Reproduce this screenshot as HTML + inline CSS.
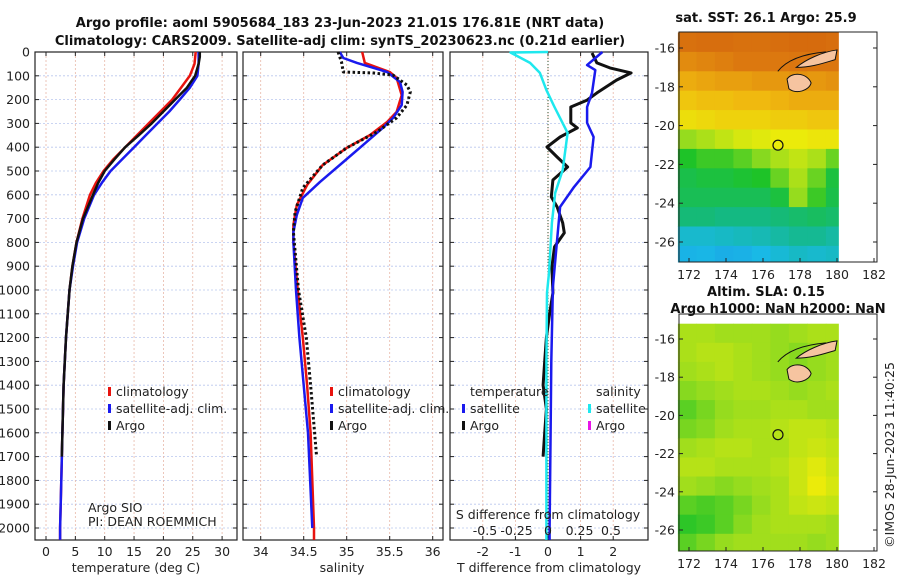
<!DOCTYPE html>
<html><head><meta charset="utf-8">
<style>
html,body{margin:0;padding:0;background:#fff;}
svg{display:block;font-family:"DejaVu Sans","Liberation Sans",sans-serif;}
.t{font-size:12.5px;fill:#222;}
.b{font-weight:bold;font-size:13px;fill:#111;}
</style></head>
<body>
<svg id="chart" width="900" height="580" viewBox="0 0 900 580">
<text class="b" x="340" y="27" text-anchor="middle">Argo profile: aoml 5905684_183 23-Jun-2023 21.01S 176.81E (NRT data)</text>
<text class="b" x="340" y="45" text-anchor="middle">Climatology: CARS2009. Satellite-adj clim: synTS_20230623.nc (0.21d earlier)</text>
<text class="b" x="766" y="22" text-anchor="middle">sat. SST: 26.1 Argo: 25.9</text>
<text class="b" x="766" y="296" text-anchor="middle">Altim. SLA: 0.15</text>
<text class="b" x="778" y="313" text-anchor="middle">Argo h1000: NaN h2000: NaN</text>
<text class="t" transform="translate(894,455) rotate(-90)" text-anchor="middle">©IMOS 28-Jun-2023 11:40:25</text>
<g id="layer"></g>
</svg>
<script>
// ---------- data ----------
const depthTicks=[0,100,200,300,400,500,600,700,800,900,1000,1100,1200,1300,1400,1500,1600,1700,1800,1900,2000];
const tempTicks=[0,5,10,15,20,25,30];
const salTicks=[34,34.5,35,35.5,36];
const tdiffTicks=[-2,-1,0,1,2];
const sdiffTicks=[-0.5,-0.25,0,0.25,0.5];
const sdiffLabels=["-0.5","-0.25","0","0.25","0.5"];

const climDepth=[0,50,100,150,200,250,300,350,400,450,500,550,600,700,800,900,1000,1200,1400,1600,1800,2000,2050];
const climTemp=[25.5,25.3,24.5,23,21.5,19.5,17.5,15.5,13.5,11.5,9.8,8.5,7.5,6.2,5.2,4.5,4.0,3.4,3.0,2.8,2.6,2.4,2.4];
const satTemp=[26,26,25.8,24.5,22.8,21,19,17,15,13,11,9.5,8.2,6.5,5.3,4.6,4.0,3.4,3.0,2.8,2.6,2.4,2.4];
const argoDepth=[0,20,50,100,150,200,250,300,350,400,450,500,550,600,700,800,900,1000,1200,1400,1600,1700];
const argoTemp=[26.2,26.2,26,25.4,24,22,20,18,15.8,13.5,11.7,10,8.9,8,6.3,5.2,4.5,4.0,3.4,3.0,2.8,2.7];

const climSalDepth=[0,46,84,109,181,252,294,349,403,475,559,643,727,798,1000,1200,1400,1600,2000,2050];
const climSal=[35.18,35.21,35.50,35.58,35.64,35.58,35.47,35.27,35.00,34.72,34.54,34.42,34.38,34.38,34.43,34.49,34.54,34.58,34.62,34.62];
const satSalDepth=[0,25,46,84,126,168,223,277,319,391,462,546,613,685,756,800,1000,1200,1400,1600,2000];
const satSal=[34.92,34.96,35.12,35.47,35.62,35.65,35.64,35.54,35.42,35.19,34.96,34.69,34.49,34.42,34.38,34.38,34.41,34.45,34.50,34.55,34.60];
const argoSalDepth=[0,42,84,88,97,139,168,223,277,336,403,475,571,672,756,1000,1200,1400,1700];
const argoSal=[34.9,34.94,34.96,35.3,35.54,35.7,35.74,35.7,35.58,35.35,35.0,34.72,34.49,34.4,34.38,34.44,34.53,34.58,34.65];

const cyanDepth=[0,2,46,88,160,231,340,496,592,718,928,1012,1300,1600,2000,2050];
const cyanDiff=[0,-1.15,-0.55,-0.25,-0.05,0.2,0.6,0.45,0.22,0.12,0.03,-0.03,-0.05,-0.05,-0.05,-0.05];
const blueDepth=[0,55,76,172,231,298,357,483,567,651,790,987,1300,1600,2000,2050];
const blueDiff=[1.67,1.2,1.45,1.35,1.2,1.2,1.4,1.3,0.8,0.37,0.28,0.15,0.1,0.08,0.05,0.05];
const blackDepth=[4,46,67,88,118,172,202,231,298,319,357,399,441,483,538,609,651,718,760,819,903,1012,1100,1200,1300,1400,1500,1600,1700];
const blackDiff=[1.35,1.5,1.9,2.55,2.1,1.5,1.2,0.7,0.7,0.9,0.37,-0.03,0.28,0.6,0.15,0.1,0.28,0.45,0.5,0.2,0.12,0.15,0.05,-0.05,-0.1,-0.15,-0.05,-0.1,-0.15];

const lonTicks=[172,174,176,178,180,182];
const latTicks=[-16,-18,-20,-22,-24,-26];
const gridLon=[171.4,172.4,173.4,174.4,175.4,176.4,177.4,178.4,179.4];
const gridLat=[-15.2,-16.2,-17.2,-18.2,-19.2,-20.2,-21.2,-22.2,-23.2,-24.2,-25.2,-26.2];
const sstGrid=[
[0.87,0.88,0.88,0.87,0.87,0.88,0.89,0.89,0.88],
[0.81,0.82,0.83,0.84,0.84,0.84,0.85,0.85,0.85],
[0.76,0.77,0.78,0.78,0.79,0.79,0.80,0.79,0.80],
[0.72,0.73,0.73,0.74,0.74,0.75,0.76,0.76,0.76],
[0.68,0.69,0.70,0.70,0.70,0.71,0.71,0.72,0.72],
[0.58,0.60,0.62,0.64,0.65,0.66,0.66,0.67,0.67],
[0.50,0.52,0.52,0.54,0.57,0.60,0.62,0.60,0.55],
[0.47,0.48,0.48,0.49,0.50,0.55,0.60,0.55,0.48],
[0.46,0.46,0.46,0.46,0.46,0.48,0.58,0.52,0.47],
[0.43,0.43,0.42,0.42,0.42,0.43,0.44,0.45,0.44],
[0.33,0.33,0.34,0.35,0.36,0.38,0.40,0.40,0.38],
[0.28,0.29,0.26,0.27,0.30,0.32,0.34,0.33,0.34]];
const slaGrid=[
[0.60,0.60,0.59,0.59,0.59,0.58,0.59,0.60,0.60],
[0.60,0.61,0.61,0.60,0.59,0.58,0.57,0.58,0.59],
[0.59,0.60,0.61,0.60,0.59,0.58,0.57,0.58,0.59],
[0.57,0.58,0.59,0.60,0.60,0.59,0.58,0.59,0.60],
[0.54,0.56,0.58,0.59,0.59,0.60,0.60,0.59,0.59],
[0.56,0.57,0.59,0.60,0.60,0.61,0.62,0.62,0.61],
[0.59,0.60,0.61,0.61,0.60,0.60,0.62,0.63,0.62],
[0.61,0.61,0.60,0.60,0.60,0.61,0.63,0.65,0.63],
[0.59,0.58,0.57,0.58,0.59,0.60,0.63,0.66,0.64],
[0.54,0.53,0.54,0.56,0.58,0.60,0.62,0.63,0.62],
[0.51,0.52,0.54,0.57,0.59,0.60,0.60,0.60,0.59],
[0.54,0.56,0.58,0.59,0.59,0.59,0.59,0.58,0.59]];
const argoLon=176.81, argoLat=-21.01;

// ---------- drawing ----------
const NS="http://www.w3.org/2000/svg";
const L=document.getElementById('layer');
function el(tag,a,parent){const e=document.createElementNS(NS,tag);for(const k in a)e.setAttribute(k,a[k]);(parent||L).appendChild(e);return e;}
function txt(x,y,s,anchor,size){const e=el('text',{x:x,y:y,'text-anchor':anchor||'middle',class:'t'});if(size)e.setAttribute('font-size',size);e.textContent=s;return e;}

const PY0=52, PY1=540; const dy=d=>PY0+d*0.238;
function panel(name,x0,x1,xs,ticks,labels,withY){
  const g=el('g',{});
  
  
  depthTicks.forEach(d=>{el('line',{x1:x0,x2:x1,y1:dy(d),y2:dy(d),stroke:'#b9c6ee','stroke-width':0.8,'stroke-dasharray':'2,2'},g);
    el('line',{x1:x0,x2:x0+4,y1:dy(d),y2:dy(d),stroke:'#222'},g);el('line',{x1:x1,x2:x1-4,y1:dy(d),y2:dy(d),stroke:'#222'},g);});
  ticks.forEach((v,i)=>{const x=xs(v);el('line',{x1:x,x2:x,y1:PY0,y2:PY1,stroke:'#e8b8a8','stroke-width':0.8,'stroke-dasharray':'2,2'},g);
    el('line',{x1:x,x2:x,y1:PY1,y2:PY1-4,stroke:'#222'},g);el('line',{x1:x,x2:x,y1:PY0,y2:PY0+4,stroke:'#222'},g);
    const t=txt(x,556,labels[i]);});
  el('rect',{x:x0,y:PY0,width:x1-x0,height:PY1-PY0,fill:'none',stroke:'#222','stroke-width':1.2},g);
  if(withY) depthTicks.forEach(d=>{const t=txt(30,dy(d)+4.5,String(d),'end');});
  return g;
}
function line(xs,vals,deps,color,w,name,dash){
  const p=vals.map((v,i)=>(i?'L':'M')+xs(v).toFixed(1)+','+dy(deps[i]).toFixed(1)).join('');
  const e=el('path',{d:p,fill:'none',stroke:color,'stroke-width':w,'stroke-linejoin':'round'});
  if(dash)e.setAttribute('stroke-dasharray',dash);
  
  
}
function legend(x,y,color,label,name){
  el('rect',{x:x,y:y-9,width:3,height:9,fill:color});
  const t=txt(x+8,y,label,'start');
  
  
}
// panel 1
const xT=v=>46+v*5.87;
panel('temperature-panel',35,237,xT,tempTicks,tempTicks.map(String),true);
line(xT,climTemp,climDepth,'#e8130e',2.5,'temp-climatology-line');
line(xT,satTemp,climDepth,'#1a1aee',2.5,'temp-satellite-line');
line(xT,argoTemp,argoDepth,'#111',2.5,'temp-argo-line');
txt(136,572,'temperature (deg C)');
legend(108,396,'#e8130e','climatology','legend-climatology');
legend(108,413,'#1a1aee','satellite-adj. clim.','legend-satellite');
legend(108,430,'#111','Argo','legend-argo');
txt(88,512,'Argo SIO','start',10);
txt(88,526,'PI: DEAN ROEMMICH','start',10);
// panel 2
const xS=v=>260.7+(v-34)*86;
panel('salinity-panel',243,443,xS,salTicks,salTicks.map(String),false);
line(xS,climSal,climSalDepth,'#e8130e',2.5,'sal-climatology-line');
line(xS,satSal,satSalDepth,'#1a1aee',2.5,'sal-satellite-line');
line(xS,argoSal,argoSalDepth,'#111',3,'sal-argo-line','2.5,2.5');
txt(342,572,'salinity');
legend(330,396,'#e8130e','climatology','legend-climatology-2');
legend(330,413,'#1a1aee','satellite-adj. clim.','legend-satellite-2');
legend(330,430,'#111','Argo','legend-argo-2');
// panel 3
const xD=v=>548+v*32.6;
const xSD=v=>548+v*126;
panel('difference-panel',450,648,xD,tdiffTicks,tdiffTicks.map(String),false);
el('line',{x1:548,x2:548,y1:PY0,y2:PY1,stroke:'#335533','stroke-dasharray':'1,2'});
line(xD,blackDiff,blackDepth,'#111',3,'tdiff-argo-line');
line(xD,blueDiff,blueDepth,'#1a1aee',2.5,'tdiff-satellite-line');
line(xD,cyanDiff,cyanDepth,'#1ee8ee',2.5,'sdiff-satellite-line');
txt(548,519,'S difference from climatology');
sdiffTicks.forEach((v,i)=>{const t=txt(xSD(v),535,sdiffLabels[i]);});
txt(549,572,'T difference from climatology');
txt(470,396,'temperature','start');
txt(596,396,'salinity','start');
legend(462,413,'#1a1aee','satellite','legend-t-satellite');
legend(462,430,'#111','Argo','legend-t-argo');
legend(588,413,'#1ee8ee','satellite','legend-s-satellite');
legend(588,430,'#e815e8','Argo','legend-s-argo');

// maps
const cmapStops=[[0,[30,100,230]],[0.3,[25,185,230]],[0.42,[20,185,130]],[0.5,[30,195,40]],[0.58,[150,220,30]],[0.66,[235,235,10]],[0.74,[240,185,15]],[0.84,[220,120,15]],[1,[200,80,10]]];
function cmap(v){
  for(let i=1;i<cmapStops.length;i++){const [a,ca]=cmapStops[i-1],[b,cb]=cmapStops[i];
    if(v<=b){const f=Math.max(0,(v-a)/(b-a));return 'rgb('+ca.map((c,k)=>Math.round(c+(cb[k]-c)*f)).join(',')+')';}}
  return 'rgb(200,80,10)';
}
function map(name,grid,top,latY0,latScale,bottom){
  const mx=lon=>689+(lon-172)*18.5;
  const my=lat=>latY0+(-16-lat)*latScale;
  const g=el('g',{});
  
  
  grid.forEach((row,r)=>row.forEach((v,c)=>{
    const x=mx(gridLon[c]),y=my(gridLat[r]);
    const w=(c===8?mx(180.1):mx(gridLon[c]+1))-x, h=my(gridLat[r]-1)-y;
    const cell=el('rect',{x:x.toFixed(1),y:y.toFixed(1),width:(w+0.5).toFixed(1),height:(Math.min(h,bottom-y)+0.5).toFixed(1),fill:cmap(v)},g);
    
    
  }));
  const land=`M${mx(177.8)},${my(-17.0)} C${mx(178.3)},${my(-16.6)} ${mx(179.2)},${my(-16.2)} ${mx(180)},${my(-16.1)} L${mx(179.9)},${my(-16.6)} C${mx(179.2)},${my(-16.8)} ${mx(178.6)},${my(-17.0)} ${mx(177.8)},${my(-17.0)} Z
  M${mx(177.3)},${my(-17.6)} C${mx(177.6)},${my(-17.2)} ${mx(178.4)},${my(-17.3)} ${mx(178.6)},${my(-17.8)} C${mx(178.5)},${my(-18.2)} ${mx(177.8)},${my(-18.4)} ${mx(177.4)},${my(-18.1)} Z`;
  el('path',{d:land,fill:'#f6c4a0',stroke:'#111','stroke-width':1},g);
  el('path',{d:`M${mx(176.8)},${my(-17.2)} C${mx(177.3)},${my(-16.6)} ${mx(178.2)},${my(-16.3)} ${mx(179.4)},${my(-16.2)}`,fill:'none',stroke:'#111','stroke-width':1},g);
  el('rect',{x:mx(180.1),y:top,width:mx(182.2)-mx(180.1),height:bottom-top,fill:'#fff'},g);
  const c=el('circle',{cx:mx(argoLon),cy:my(argoLat),r:5,fill:'none',stroke:'#111','stroke-width':1.2},g);
  
  
  el('rect',{x:679,y:top,width:198,height:bottom-top,fill:'none',stroke:'#222','stroke-width':1},g);
  lonTicks.forEach(l=>{el('line',{x1:mx(l),x2:mx(l),y1:bottom,y2:bottom-4,stroke:'#222'},g);const t=txt(mx(l),bottom+17,String(l));});
  latTicks.forEach(l=>{el('line',{x1:679,x2:683,y1:my(l),y2:my(l),stroke:'#222'},g);el('line',{x1:877,x2:873,y1:my(l),y2:my(l),stroke:'#222'},g);const t=txt(675,my(l)+4.5,String(l),'end');});
}
map('sst-map',sstGrid,32,48,19.4,262);
map('sla-map',slaGrid,314,339,19.1,551);
</script>
</body></html>
